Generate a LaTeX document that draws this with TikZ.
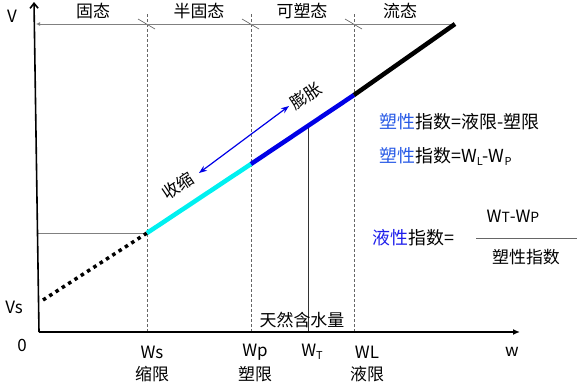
\documentclass[tikz,border=0pt]{standalone}
\usepackage{fontspec}
\setmainfont{Noto Sans CJK SC}
\usetikzlibrary{arrows.meta,positioning,calc}
\definecolor{lineblue}{RGB}{0,0,230}
\definecolor{linecyan}{RGB}{0,240,240}
\definecolor{plasblue}{RGB}{40,90,230}
\definecolor{liqblue}{RGB}{30,30,235}
\newcommand\lowidx[1]{\raisebox{-3bp}{\fontsize{11}{13}\selectfont #1}}

\begin{document}
\begin{tikzpicture}[x=1bp,y=-1bp,font=\fontsize{17}{20}\selectfont,
  lim/.style={gray!80!black,line width=0.6bp,dash pattern=on 2.5bp off 2.5bp},
  guide/.style={gray,line width=0.8bp},
  slash/.style={gray!70!black,line width=0.6bp},
  seg/.style={line width=4.5bp},
  axis/.style={line width=1.6bp}]
  % screen pixel coordinates, y grows downward
  \useasboundingbox (0,0) rectangle (577,386);
  \coordinate (O) at (39,332);
  \coordinate (Ytop) at (34,2);
  \coordinate (Xend) at (520,332);
  \coordinate (TL) at (36,24);
  % points on the volume line
  \coordinate (P0) at (43,300);
  \coordinate (Ps) at (147,233);
  \coordinate (Pp) at (251,164);
  \coordinate (Pl) at (354,95);
  \coordinate (Pe) at (455,24);
  \coordinate (Pt) at (308,126);
  \coordinate (Tt) at (308,332);
  \coordinate (Ys) at (38,233);
  % limits: dashed verticals and slashes on the top line
  \foreach \n/\x in {s/147,p/251,l/354}{
    \coordinate (D\n) at (\x,332);
    \draw[lim] (\x,14) -- (D\n);
    \draw[slash] (\x-9,19) -- ++(17,10);
  }
  \draw[guide,{Latex[length=4bp,width=4bp]}-] (TL) -- (Pe);
  \draw[guide] (Ys) -- (Ps);
  \draw[black!80,line width=0.8bp] (Pt) -- (Tt);
  % axes
  \draw[axis,-{Straight Barb[length=5bp,width=8bp]}] (O) -- (Ytop);
  \draw[axis,-{Latex[length=7bp,width=6bp]}] (O) -- (Xend);
  % the line, one colour per state
  \draw[line width=3.5bp,dash pattern=on 3.5bp off 4bp] (P0) -- (Ps);
  \draw[seg,linecyan] (Ps) -- (Pp);
  \draw[seg,lineblue] (Pp) -- (Pl);
  \draw[seg,black] (Pl) -- (Pe);
  % shrink / swell
  \coordinate (ShrA) at (199,173);
  \coordinate (ExpA) at (289,106);
  \draw[lineblue,line width=1.2bp,{Stealth[length=8bp,width=6bp]}-{Stealth[length=8bp,width=6bp]}] (ShrA) -- (ExpA);
  \node[rotate=34,inner sep=0pt] (shr) at (178,186) {收缩};
  \node[rotate=34,inner sep=0pt] (exp) at (306,96) {膨胀};
  % states
  \node (st1) at (93,11) {固态};
  \node (st2) at (199,11) {半固态};
  \node (st3) at (302,11) {可塑态};
  \node (st4) at (400,11) {流态};
  % axis labels
  \node (lv) at (12,16) {V};
  \node (lvs) at (14,307) {Vs};
  \node (l0) at (22,345) {0};
  \node (lw) at (512,352) {w};
  \node (lws) at (152,352) {Ws};
  \node (lwp) at (255,352) {Wp};
  \node (lwt) at (312,352) {W\lowidx{T}};
  \node (lwl) at (367,352) {WL};
  \node (nws) at (152,374) {缩限};
  \node (nwp) at (255,374) {塑限};
  \node (nwl) at (367,374) {液限};
  \node (nat) at (302,320) {天然含水量};
  % indices
  \node[anchor=west,font=\fontsize{18}{21}\selectfont] (pi1) at (376,122) {\textcolor{plasblue}{塑性}指数=液限-塑限};
  \node[anchor=west,font=\fontsize{18}{21}\selectfont] (pi2) at (376,156) {\textcolor{plasblue}{塑性}指数=W\lowidx{L}-W\lowidx{P}};
  \node[anchor=west,font=\fontsize{18}{21}\selectfont] (li) at (369,238) {\textcolor{liqblue}{液性}指数=};
  \node (num) at (513,216) {W{\fontsize{14}{16}\selectfont T}-W{\fontsize{14}{16}\selectfont P}};
  \node (den) at (526,257) {塑性指数};
  \coordinate (FrL) at (476,238);
  \coordinate (FrR) at (577,238);
  \draw[gray!80!black,line width=0.9bp] (FrL) -- (FrR);
\end{tikzpicture}
\end{document}
